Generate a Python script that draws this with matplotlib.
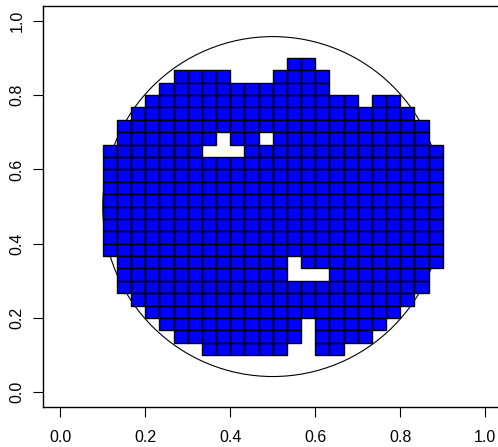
import matplotlib
matplotlib.use("Agg")
import matplotlib.pyplot as plt
from matplotlib.patches import Ellipse

plt.rcParams['font.family'] = ['Liberation Sans', 'DejaVu Sans']

# wafer grid: 24 x 24 dies of size 1/30 starting at 0.1
die = 1 / 30
origin = 0.1
# first / last die column present in each row (row 0 = bottom)
row_first = [7, 5, 4, 3, 2, 1, 1, 1, 0, 0, 0, 0, 0, 0, 0, 0, 0, 1, 1, 2, 3, 4, 5, 13]
row_last = [16, 18, 19, 20, 21, 22, 22, 23, 23, 23, 23, 23, 23, 23, 23, 23, 23, 22, 22, 21, 20, 15, 15, 14]
# missing dies (column, row)
holes = [(13, 0), (14, 0), (14, 1), (14, 2), (13, 6), (14, 6), (15, 6), (13, 7),
         (7, 16), (8, 16), (9, 16), (8, 17), (11, 17), (18, 20), (9, 22), (10, 22), (11, 22)]

wafer_center = (0.5, 0.5)
wafer_radius = 0.4

ticks = [0.0, 0.2, 0.4, 0.6, 0.8, 1.0]
tick_labels = ["0.0", "0.2", "0.4", "0.6", "0.8", "1.0"]

fig = plt.figure(figsize=(4.98, 4.47), dpi=100)
ax = fig.add_axes([0.0870, 0.0890, 0.9215, 0.8978])
ax.set_xlim(-0.04, 1.04)
ax.set_ylim(-0.04, 1.04)

# wafer outline, drawn under the dies; round in pixels (aspect not equal)
bb = ax.get_window_extent()
px_x = bb.width / 1.08
px_y = bb.height / 1.08
ax.add_patch(Ellipse(wafer_center, 2 * wafer_radius, 2 * wafer_radius * px_x / px_y,
                     fill=False, edgecolor='black', linewidth=0.8, zorder=0.5))

# faces first, then outlines so no edge gets covered by a neighbour
for face, edge, lw in [('#0000ff', 'none', 0), ('none', 'black', 1.0)]:
    for r, (a, b) in enumerate(zip(row_first, row_last)):
        cols = [c for c in range(a, b + 1) if (c, r) not in holes]
        ax.bar([origin + c * die for c in cols], die, width=die,
               bottom=origin + r * die, align='edge',
               color=face, edgecolor=edge, linewidth=lw)

ax.set_xticks(ticks)
ax.set_xticklabels(tick_labels)
ax.set_yticks(ticks)
ax.set_yticklabels(tick_labels, rotation=90, va='center')
ax.tick_params(axis='both', direction='out', length=7, width=0.8, labelsize=11.5)
ax.tick_params(axis='x', pad=9.5)
ax.tick_params(axis='y', pad=6.6)
for s in ax.spines.values():
    s.set_linewidth(1.0)

fig.savefig("out.png", dpi=100)
